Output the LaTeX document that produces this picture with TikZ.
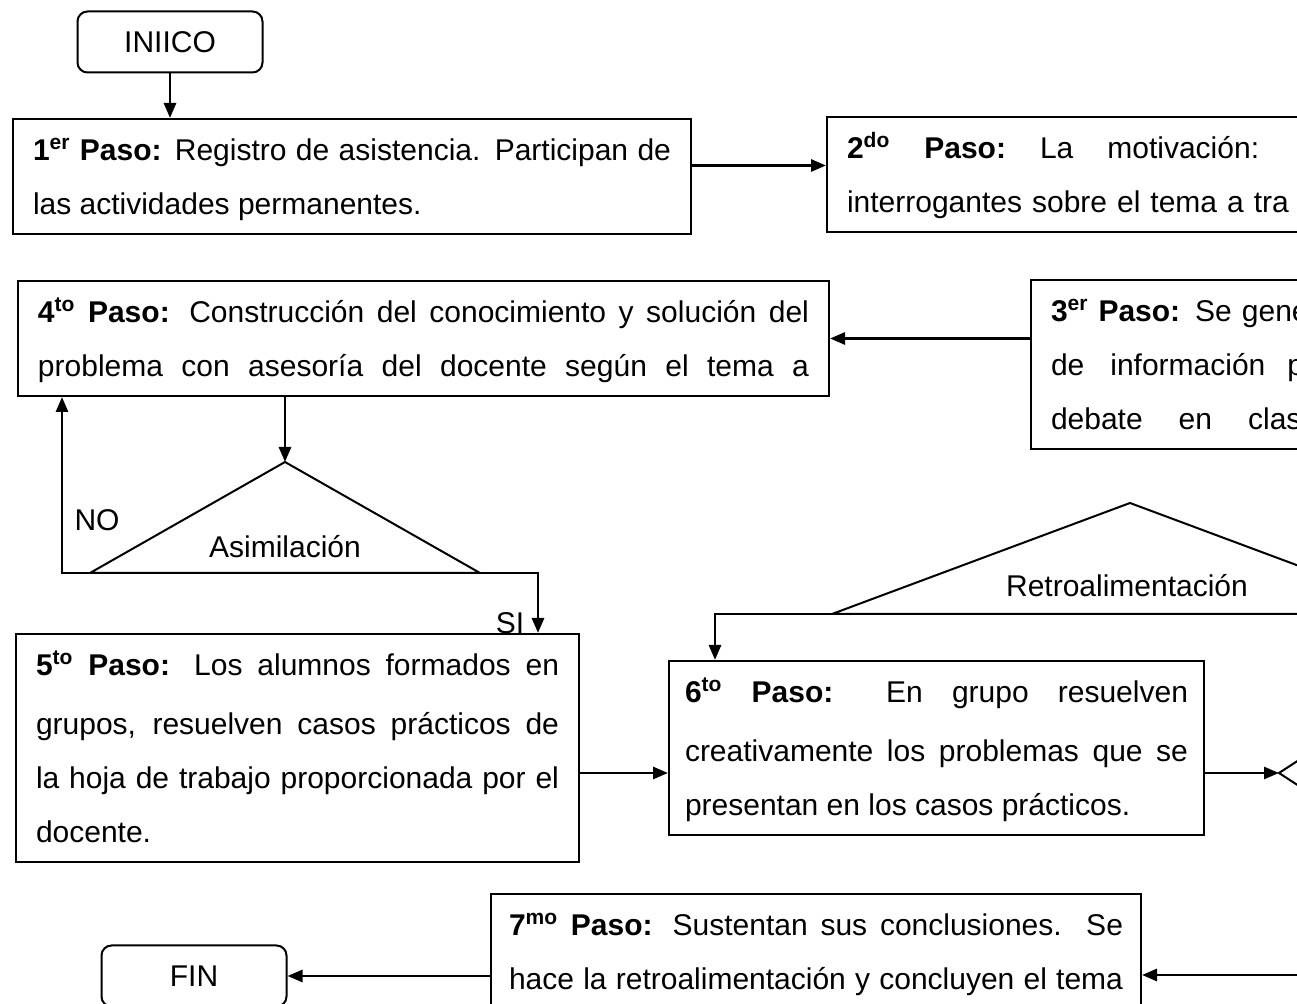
\documentclass[tikz,border=0pt]{standalone}
\usepackage{fontspec}
\setmainfont{Liberation Sans}
\usetikzlibrary{positioning, arrows.meta}

\tikzset{
	paso/.style = {draw, line width = 1pt, rectangle, anchor = north west, inner xsep = 10pt, inner ysep = 1.75pt, align = justify, font = \fontsize{15}{27}\selectfont},
	pasocortado/.style = {paso, align = left},
	extremo/.style = {draw, line width = 1pt, rounded corners = 5pt, minimum width = 92.5pt, minimum height = 30.5pt, font = \fontsize{15}{18}\selectfont},
	flecha/.style = {-{Triangle[length = 7.5pt, width = 6pt]}, line width = 1.4pt},
	linea/.style = {line width = 1pt},
	etiqueta/.style = {font = \fontsize{15}{18}\selectfont, inner sep = 0pt}
}

\begin{document}
\begin{tikzpicture}[x = 0.5pt, y = -0.5pt]
	\useasboundingbox (0, 0) rectangle (1297, 1004);
	\clip (0, 0) rectangle (1297, 1004);

	\node[extremo] (inicio) at (170, 42) {INIICO};
	\node[paso, text width = 319pt] (p1) at (12, 118) {\strut\textbf{1\textsuperscript{er} Paso:} Registro de asistencia. Participan de\linebreak las actividades permanentes.\strut};
	\node[pasocortado, text width = 400pt] (p2) at (826, 116) {\strut\textbf{2\textsuperscript{do}\hspace{17pt}Paso:}\hspace{17pt}La\hspace{17pt}motivación:\\ interrogantes sobre el tema a tra\strut};
	\node[pasocortado, text width = 200pt] (p3) at (1030, 279) {\strut\textbf{3\textsuperscript{er} Paso:} Se gene\\ de\hspace{13pt}información\hspace{11pt}p\\ debate\hspace{18pt}en\hspace{18pt}clase\strut\par\vspace*{5pt}};
	\node[paso, text width = 385.5pt] (p4) at (17, 280) {\strut\textbf{4\textsuperscript{to} Paso:} Construcción del conocimiento y solución del\linebreak problema con asesoría del docente según el tema a\strut\parfillskip = 0pt\par\vspace*{8.5pt}};
	\node[paso, text width = 261.5pt] (p5) at (15, 633) {\vspace*{2.5pt}\strut\textbf{5\textsuperscript{to} Paso:} Los alumnos formados en\linebreak grupos, resuelven casos prácticos de\linebreak la hoja de trabajo proporcionada por el\linebreak docente.\strut\par\vspace*{4.5pt}};
	\node[paso, inner xsep = 8pt, text width = 251.5pt] (p6) at (668, 660) {\vspace*{2.5pt}\strut\textbf{6\textsuperscript{to} Paso:} En grupo resuelven\linebreak creativamente los problemas que se\linebreak presentan en los casos prácticos.\strut\par\vspace*{13pt}};
	\node[paso, inner xsep = 9pt, text width = 307pt] (p7) at (490, 893) {\strut\textbf{7\textsuperscript{mo} Paso:} Sustentan sus conclusiones. Se\linebreak hace la retroalimentación y concluyen el tema\strut\parfillskip = 0pt\par\vspace*{10pt}};
	\node[extremo] (fin) at (194, 976) {FIN};

	\coordinate (asimA) at (285, 462);
	\coordinate (asimL) at (90, 573);
	\coordinate (asimR) at (480, 573);
	\draw[linea] (asimL) -- (asimA) -- (asimR) -- cycle;
	\node[etiqueta] (asim) at (285, 547) {Asimilación};

	\coordinate (retroA) at (1130, 503);
	\coordinate (retroL) at (832, 614);
	\coordinate (retroR) at (1428, 614);
	\draw[linea] (retroL) -- (retroA) -- (retroR) -- cycle;
	\node[etiqueta] (retro) at (1127, 586) {Retroalimentación};

	\coordinate (rombo) at (1279, 773);
	\draw[linea] (1319, 747) -- (rombo) -- (1319, 799);

	\draw[flecha] (inicio) -- (inicio |- p1.north);
	\draw[flecha] ([yshift = 5.5pt]p1.east) -- ([yshift = 5.5pt]p1.east -| p2.west);
	\draw[flecha] (p4.east -| p3.west) -- (p4.east);
	\draw[flecha] (asimA |- p4.south) -- (asimA);

	\coordinate (no) at (62, 573);
	\draw[flecha] (asimL) -- (no) -- (no |- p4.south);
	\node[etiqueta] (etiqno) at (97, 520) {NO};

	\coordinate (si) at (538, 573);
	\draw[flecha] (asimR) -- (si) -- (si |- p5.north);
	\node[etiqueta] (etiqsi) at (510, 623) {SI};

	\draw[flecha] (p5.east |- rombo) -- (p6.west |- rombo);
	\draw[flecha] (p6.east |- rombo) -- (rombo);

	\coordinate (retroB) at (715, 614);
	\draw[flecha] (retroL) -- (retroB) -- (retroB |- p6.north);

	\coordinate (entra7) at (1310, 975);
	\draw[flecha] (entra7) -- (entra7 -| p7.east);
	\draw[flecha] (p7.west |- fin) -- (fin.east);
\end{tikzpicture}
\end{document}
